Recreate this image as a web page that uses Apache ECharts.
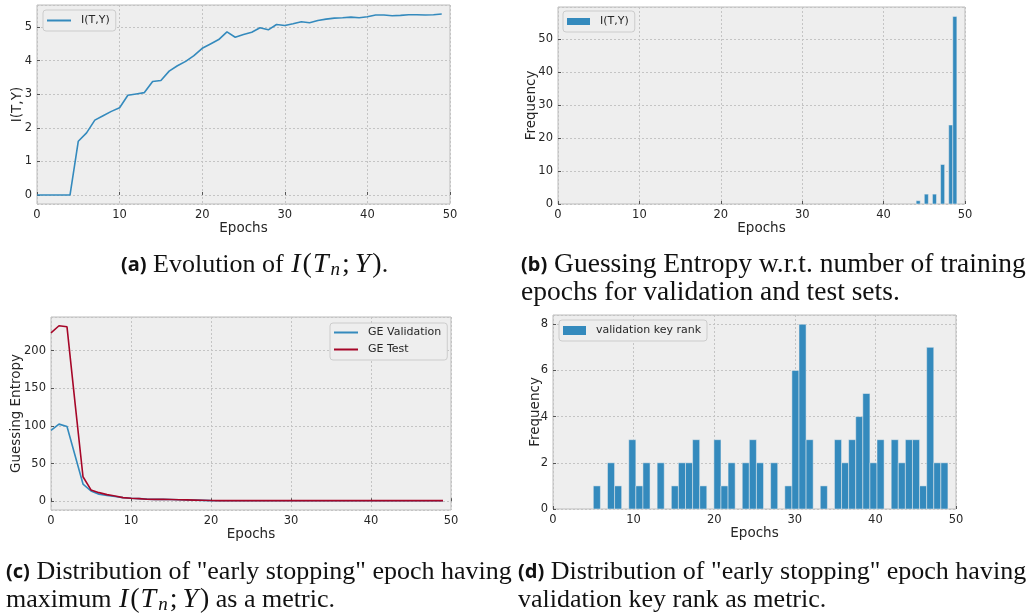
<!DOCTYPE html>
<html>
<head>
<meta charset="utf-8">
<script src="https://cdn.jsdelivr.net/npm/echarts@6/dist/echarts.min.js"></script>
<style>
  html, body { margin: 0; padding: 0; background: #ffffff; }
  #chart { width: 1029px; height: 614px; }
</style>
</head>
<body>
<div id="chart"></div>
<script>
// ---- data ----
const epochs = Array.from({ length: 50 }, (_, i) => i);

// (a) mutual information I(T,Y) per epoch
const mutualInfo = [
  0, 0, 0, 0, 0, 1.60, 1.85, 2.23, 2.36, 2.49,
  2.60, 2.97, 3.01, 3.05, 3.38, 3.41, 3.69, 3.85, 3.98, 4.15,
  4.37, 4.50, 4.63, 4.86, 4.70, 4.78, 4.85, 4.98, 4.92, 5.08,
  5.05, 5.10, 5.16, 5.13, 5.20, 5.24, 5.27, 5.28, 5.30, 5.28,
  5.31, 5.36, 5.36, 5.34, 5.35, 5.37, 5.37, 5.36, 5.37, 5.39
];

// (b) early-stopping epochs selected by maximum I(T,Y)
const miStopEpochs = [44, 45, 46, 47, 48, 49];
const miStopCounts = [1, 3, 3, 12, 24, 57];

// (c) guessing entropy per epoch
const geValidation = [
  94.0, 102.4, 99.3, 61.0, 22.8, 13.6, 9.2, 7.5, 6.2, 4.8,
  4.0, 3.4, 2.8, 2.5, 2.4, 2.2, 2.0, 1.7, 1.4, 1.1,
  0.8, 0.7, 0.7, 0.6, 0.6, 0.6, 0.6, 0.6, 0.6, 0.6,
  0.6, 0.6, 0.6, 0.6, 0.6, 0.6, 0.6, 0.6, 0.6, 0.6,
  0.6, 0.6, 0.6, 0.6, 0.6, 0.6, 0.6, 0.6, 0.6, 0.6
];
const geTest = [
  223.7, 233.0, 231.6, 131.0, 32.5, 15.0, 11.4, 8.8, 7.0, 4.8,
  4.0, 3.5, 2.6, 2.5, 2.5, 2.3, 2.0, 1.8, 1.5, 1.2,
  0.9, 0.8, 0.8, 0.8, 0.8, 0.8, 0.8, 0.8, 0.8, 0.8,
  0.8, 0.8, 0.8, 0.8, 0.8, 0.8, 0.8, 0.8, 0.8, 0.8,
  0.8, 0.8, 0.8, 0.8, 0.8, 0.8, 0.8, 0.8, 0.8, 0.8
];

// (d) early-stopping epochs selected by validation key rank
const rankStopEpochs = [
  5, 6, 7, 8, 9, 10, 11, 12, 13, 14, 15, 16, 17, 18, 19, 20, 21, 22, 23, 24, 25, 26, 27,
  28, 29, 30, 31, 32, 33, 34, 35, 36, 37, 38, 39, 40, 41, 42, 43, 44, 45, 46, 47, 48, 49
];
const rankStopCounts = [
  1, 0, 2, 1, 0, 3, 1, 2, 2, 0, 1, 2, 2, 3, 1, 3, 1, 2, 0, 2, 3, 2, 2,
  0, 1, 6, 8, 3, 0, 1, 3, 2, 3, 4, 5, 2, 3, 3, 2, 3, 3, 1, 7, 2, 2
];

// ---- helpers ----
// Bin weighted observations into equal-width bins between min and max (last bin closed).
function histogram(values, counts, bins) {
  const present = values.filter((v, i) => counts[i] > 0);
  const lo = Math.min(...present), hi = Math.max(...present);
  const w = (hi - lo) / bins;
  const out = Array.from({ length: bins }, (_, i) => [lo + i * w, lo + (i + 1) * w, 0]);
  values.forEach((v, i) => {
    if (!counts[i]) return;
    let k = Math.floor((v - lo) / (hi - lo) * bins);
    if (k >= bins) k = bins - 1;
    out[k][2] += counts[i];
  });
  return out.filter(b => b[2] > 0);
}

const BLUE = '#348ABD', RED = '#A60628';
const SANS = 'DejaVu Sans';
const INK = '#262626';

function renderBin(params, api) {
  const p0 = api.coord([api.value(0), api.value(2)]);
  const p1 = api.coord([api.value(1), 0]);
  return {
    type: 'rect',
    shape: { x: p0[0], y: p0[1], width: p1[0] - p0[0], height: p1[1] - p0[1] },
    style: { fill: BLUE, stroke: '#eeeeee', lineWidth: 0.5 }
  };
}

const grids = [
  { left: 37, top: 5, width: 413, height: 199 },
  { left: 558, top: 7, width: 407, height: 197 },
  { left: 51, top: 317, width: 400, height: 193 },
  { left: 553, top: 315, width: 403, height: 194 }
].map(g => Object.assign(g, {
  show: true, backgroundColor: '#eeeeee', borderColor: '#bcbcbc', borderWidth: 1
}));

const splitLine = { show: true, lineStyle: { color: '#c4c4c4', width: 1, type: [2, 2] } };
const labelStyle = { color: INK, fontFamily: SANS, fontSize: 11.5 };
const nameStyle = { color: INK, fontFamily: SANS, fontSize: 13.5 };
const tick = { show: true, inside: true, length: 3, lineStyle: { color: '#555', width: 1 } };

function xAxis(i) {
  return {
    type: 'value', gridIndex: i, min: 0, max: 50, interval: 10,
    name: 'Epochs', nameLocation: 'middle', nameGap: 17, nameMoveOverlap: false, nameTextStyle: nameStyle,
    axisLine: { show: false }, axisTick: tick, splitLine,
    axisLabel: Object.assign({ margin: 5 }, labelStyle)
  };
}
function yAxis(i, name, range, extra) {
  return Object.assign({
    type: 'value', gridIndex: i, min: range[0], max: range[1],
    name, nameLocation: 'middle', nameMoveOverlap: false, nameTextStyle: nameStyle,
    axisLine: { show: false }, axisTick: tick, splitLine,
    axisLabel: Object.assign({ margin: 5, showMinLabel: range[0] === 0, showMaxLabel: false }, labelStyle)
  }, extra);
}

const legendBase = {
  orient: 'vertical', padding: [5, 6, 5, 4], itemGap: 6,
  backgroundColor: '#eeeeee', borderColor: '#cccccc', borderWidth: 1, borderRadius: 3,
  textStyle: { color: INK, fontFamily: SANS, fontSize: 11, padding: [0, 0, 0, 5] }
};

const SERIF = 'Liberation Serif';
const LH = 28;
function captionStyle(size) {
  return {
    fontFamily: SERIF, fontSize: size, fontWeight: 'normal', color: '#111', lineHeight: LH,
    rich: {
      b: { fontFamily: 'Noto Sans', fontWeight: 'bold', fontSize: 20, color: '#111', lineHeight: LH },
      m: { fontFamily: SERIF, fontWeight: 'normal', fontSize: 28, color: '#111', lineHeight: LH },
      it: { fontFamily: SERIF, fontStyle: 'italic', fontWeight: 'normal', fontSize: 28, color: '#111',
            lineHeight: LH, padding: [0, 2, 0, 1] },
      sub: { fontFamily: SERIF, fontStyle: 'italic', fontWeight: 'normal', fontSize: 19, color: '#111',
             lineHeight: LH, padding: [10, 2, 0, 0] },
      sp: { fontFamily: SERIF, fontWeight: 'normal', fontSize: 28, color: '#111', lineHeight: LH, padding: [0, 4, 0, 0] }
    }
  };
}
const miMath = '{it|I}{m|(}{it|T}{sub|n}{sp|;}{it|Y}{m|)}';

const option = {
  animation: false,
  backgroundColor: '#ffffff',
  grid: grids,
  xAxis: [0, 1, 2, 3].map(xAxis),
  yAxis: [
    yAxis(0, 'I(T,Y)', [-0.27, 5.66], { splitNumber: 6, nameGap: 13 }),
    yAxis(1, 'Frequency', [0, 59.85], { interval: 10, nameGap: 20 }),
    yAxis(2, 'Guessing Entropy', [-11.65, 244.65], { splitNumber: 5, nameGap: 28 }),
    yAxis(3, 'Frequency', [0, 8.4], { interval: 2, nameGap: 11 })
  ],
  legend: [
    Object.assign({}, legendBase, { left: 43, top: 10, itemWidth: 24, itemHeight: 2,
      data: [{ name: 'I(T,Y)', icon: 'rect' }] }),
    Object.assign({}, legendBase, { left: 563, top: 11, itemWidth: 23, itemHeight: 7,
      data: [{ name: 'I(T,Y) frequency', icon: 'rect' }], formatter: () => 'I(T,Y)' }),
    Object.assign({}, legendBase, { left: 330, top: 323, itemWidth: 24, itemHeight: 2, itemGap: 6,
      padding: [4, 6, 5, 4],
      data: [{ name: 'GE Validation', icon: 'rect' }, { name: 'GE Test', icon: 'rect' }] }),
    Object.assign({}, legendBase, { left: 559, top: 320, itemWidth: 23, itemHeight: 9,
      data: [{ name: 'validation key rank', icon: 'rect' }] })
  ],
  title: [
    { left: 121, top: 251, padding: 0, textStyle: captionStyle(26),
      text: '{b|(a)} Evolution of ' + miMath + '.' },
    { left: 521, top: 251, padding: 0, textStyle: captionStyle(27.5),
      text: '{b|(b)} Guessing Entropy w.r.t. number of training\nepochs for validation and test sets.' },
    { left: 6, top: 558, padding: 0, textStyle: captionStyle(26),
      text: '{b|(c)} Distribution of "early stopping" epoch having\nmaximum ' + miMath + ' as a metric.' },
    { left: 518, top: 558, padding: 0, textStyle: captionStyle(26),
      text: '{b|(d)} Distribution of "early stopping" epoch having\nvalidation key rank as metric.' }
  ],
  series: [
    {
      name: 'I(T,Y)', type: 'line', xAxisIndex: 0, yAxisIndex: 0, symbol: 'none',
      lineStyle: { color: BLUE, width: 1.6 }, itemStyle: { color: BLUE },
      data: epochs.map((e, i) => [e, mutualInfo[i]])
    },
    {
      name: 'I(T,Y) frequency', type: 'custom', xAxisIndex: 1, yAxisIndex: 1,
      itemStyle: { color: BLUE }, renderItem: renderBin, encode: { x: [0, 1], y: 2 },
      data: histogram(miStopEpochs, miStopCounts, 10)
    },
    {
      name: 'GE Validation', type: 'line', xAxisIndex: 2, yAxisIndex: 2, symbol: 'none',
      lineStyle: { color: BLUE, width: 1.6 }, itemStyle: { color: BLUE },
      data: epochs.map((e, i) => [e, geValidation[i]])
    },
    {
      name: 'GE Test', type: 'line', xAxisIndex: 2, yAxisIndex: 2, symbol: 'none',
      lineStyle: { color: RED, width: 1.6 }, itemStyle: { color: RED },
      data: epochs.map((e, i) => [e, geTest[i]])
    },
    {
      name: 'validation key rank', type: 'custom', xAxisIndex: 3, yAxisIndex: 3,
      itemStyle: { color: BLUE }, renderItem: renderBin, encode: { x: [0, 1], y: 2 },
      data: histogram(rankStopEpochs, rankStopCounts, 50)
    }
  ]
};

const chart = echarts.init(document.getElementById('chart'), null, { renderer: 'canvas' });
chart.setOption(option);
</script>
</body>
</html>
